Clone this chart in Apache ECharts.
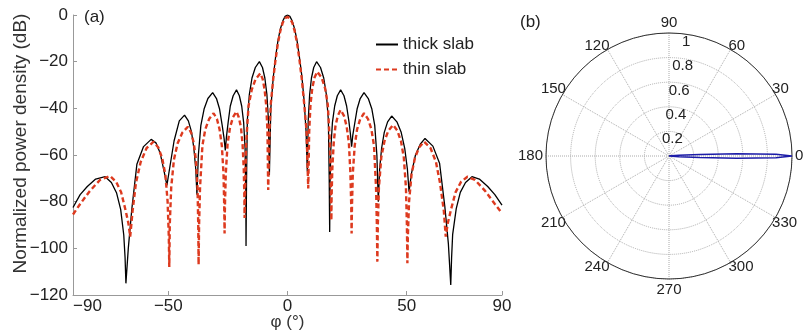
<!DOCTYPE html>
<html>
<head>
<meta charset="utf-8">
<script src="https://cdn.jsdelivr.net/npm/echarts@6/dist/echarts.min.js"></script>
<style>
  html, body { margin: 0; padding: 0; background: #fff; }
  #chart { width: 804px; height: 335px; }
</style>
</head>
<body>
<div id="chart"></div>
<script>
// (a) normalized power density in dB
const thickX = [-90, -87, -84, -80.5, -76.5, -73.9, -71.7, -70.0, -68.7, -68.15, -67.8,
  -66.8, -65.3, -63.2, -60.4, -57.2, -55.2, -53.4, -51.6, -50.6,
  -49.5, -47.6, -45.4, -43.2, -41.6, -40.3, -39.3, -38.5, -38.0,
  -37.4, -36.35, -35.0, -33.4, -31.4, -29.8, -28.5, -27.4, -26.6, -26.1,
  -25.6, -24.9, -24.0, -22.8, -21.4, -20.2, -19.2, -18.4, -17.8, -17.5, -17.4,
  -17.2, -16.85, -16.0, -14.9, -13.5, -11.8, -10.5, -9.5, -8.65, -8.0, -7.6,
  -7.0, -6, -5, -4, -3, -2, -1, 0, 1, 2, 3, 4, 5, 6, 7, 7.8, 8.3,
  8.7, 9.3, 10.05, 11.0, 12.2, 13.85, 15.2, 16.3, 17.15, 17.5, 17.7,
  17.85, 18.2, 18.85, 19.8, 20.9, 22.3, 23.7, 24.8, 25.75, 26.4, 26.9,
  27.4, 28.2, 29.2, 30.5, 32.1, 33.9, 35.4, 36.6, 37.5, 38.1,
  38.65, 39.5, 40.6, 42.0, 43.7, 45.9, 47.7, 49.2, 50.3, 51.0,
  52.0, 53.7, 55.7, 57.7, 61.0, 63.8, 66.0, 67.5, 68.5,
  68.85, 69.3, 70.8, 72.5, 74.7, 77.4, 80.5, 84, 87, 90];
const thickY = [-82.5, -77, -73.5, -70.3, -69.3, -71.8, -76.3, -83.3, -94.3, -104, -115,
  -100, -83, -64, -56.4, -53.3, -54.8, -59.3, -67.9, -73,
  -66, -54, -45.4, -42.9, -45.4, -50, -57, -66, -77,
  -60, -47.3, -40.3, -35.8, -33.3, -35.8, -40.3, -47.3, -53, -58,
  -52, -46, -39, -34.6, -32.1, -34.6, -39.1, -46.1, -57, -75, -99,
  -72, -45, -34, -27, -22.5, -20, -22.5, -27, -34, -45, -68.6,
  -40, -27, -18, -11, -6, -2.6, -0.6, 0, -0.6, -2.6, -6, -11, -18, -26, -37, -50, -67,
  -45, -34, -27, -22.5, -20, -22.5, -27, -34, -45, -70, -93,
  -72, -57, -46, -39, -34.6, -32.1, -34.6, -39, -45.5, -51, -56.4,
  -51.5, -46.5, -40.3, -35.8, -33.3, -35.8, -40.3, -47.3, -60, -80,
  -66, -57, -50.3, -45.8, -43.3, -45.8, -50.3, -57.3, -66, -75.7,
  -68, -60, -55.4, -52.9, -56.2, -63.5, -82, -98, -115.7,
  -104, -94, -83, -76, -71.8, -69.3, -70.3, -73.5, -77, -81.5];

const thinX = [-90, -87, -83, -78.7, -74.4, -71.9, -69.8, -68.1, -66.8, -66,
  -65.0, -63.6, -61.6, -59.1, -56.2, -54.2, -52.6, -51.25, -50.3, -49.8, -49.6,
  -49.4, -48.8, -47.65, -46.1, -44.1, -41.8, -40.45, -39.3, -38.45, -37.75, -37.45, -37.3,
  -37.1, -36.7, -35.7, -34.5, -32.9, -31.0, -29.6, -28.5, -27.55, -26.85, -26.55, -26.4,
  -26.25, -25.9, -25.15, -24.15, -22.9, -21.4, -20.4, -19.5, -18.85, -18.35, -18.1, -18.0,
  -17.8, -17.35, -16.35, -15.0, -13.4, -11.4, -10.4, -9.6, -8.9, -8.4, -8.1,
  -7.5, -7, -6, -5, -4, -3, -2, -1, 0, 1, 2, 3, 4, 5, 6, 7, 8, 8.7,
  9.1, 9.65, 10.4, 11.35, 12.5, 14.3, 15.75, 16.9, 17.8, 18.2, 18.4,
  18.5, 18.8, 19.4, 20.1, 21.1, 22.3, 23.7, 24.8, 25.75, 26.4, 26.75, 26.9,
  27.05, 27.4, 28.2, 29.2, 30.5, 32.1, 33.8, 35.2, 36.3, 37.15, 37.5, 37.7,
  37.9, 38.35, 39.35, 40.7, 42.3, 44.3, 46.1, 47.6, 48.8, 49.7, 50.1, 50.3,
  50.5, 51.0, 52.05, 53.45, 55.2, 57.3, 60.0, 62.3, 64.0, 65.6, 66.4,
  67.3, 68.7, 70.5, 72.8, 75.5, 78.7, 83, 87, 90];
const thinY = [-85.5, -81, -75.5, -70.7, -69, -71.5, -76, -83, -89, -95,
  -84, -72, -63, -57, -54.3, -56.8, -61.3, -68.3, -80, -95, -108,
  -90, -74, -62, -55, -50.4, -47.9, -50.4, -55, -62, -74, -90, -107,
  -90, -74, -56, -49, -44.6, -42.1, -44.6, -49, -56, -68, -82, -93.6,
  -82, -68, -55.4, -48.4, -43.9, -41.4, -43.9, -48.4, -55.4, -66, -78, -87,
  -75, -55, -39, -32, -27.5, -25, -27.5, -32, -39, -50, -75,
  -48, -38, -27.5, -19, -12, -6.8, -3.3, -1.4, -0.8, -1.4, -3.3, -6.8, -12, -19, -27.5, -38, -50, -74.3,
  -50, -38.3, -31.3, -26.8, -24.3, -26.8, -31.3, -38.3, -55, -75, -88,
  -78, -66, -54.7, -47.7, -43.2, -40.7, -43.2, -47.7, -54.7, -68, -82, -93.6,
  -82, -68, -56, -49, -44.6, -42.1, -44.6, -49, -56, -74, -90, -105.7,
  -90, -74, -61, -54, -49.6, -47.1, -49.6, -54, -61, -74, -90, -106.4,
  -95, -80, -68.3, -61.3, -56.8, -54.3, -57, -63, -72, -84, -95,
  -89, -83, -76, -71.5, -69.3, -70.7, -75.5, -81, -85];

const xTicks = [-90, -50, 0, 50, 90];

// (b) linear pattern, main beam only
const polarAngle = [352, 353, 354, 355, 356, 357, 358, 359, 0, 1, 2, 3, 4, 5, 6, 7, 8];
const polarR = [0, 0.0002, 0.002, 0.016, 0.08, 0.25, 0.55, 0.87, 1, 0.87, 0.55, 0.25, 0.08, 0.016, 0.002, 0.0002, 0];

const font = "'Liberation Sans', Arial, sans-serif";
const minus = v => String(v).replace('-', '\u2212');

const zip = (xs, ys) => xs.map((x, i) => [x, ys[i]]);

const chart = echarts.init(document.getElementById('chart'));

const option = {
    animation: false,
    textStyle: { fontFamily: font },
    title: [
        { text: '(a)', left: 79, top: 4, textStyle: { fontSize: 17, fontWeight: 'normal', color: '#222', fontFamily: font } },
        { text: '(b)', left: 515, top: 9, textStyle: { fontSize: 17, fontWeight: 'normal', color: '#222', fontFamily: font } },
    ],
    legend: {
        left: 375,
        top: 36,
        padding: 0,
        orient: 'vertical',
        itemWidth: 22,
        itemHeight: 14,
        itemGap: 8,
        itemStyle: { opacity: 0 },
        textStyle: { fontSize: 17, color: '#222', fontFamily: font },
        data: ['thick slab', 'thin slab'],
    },
    grid: {
        left: 73,
        right: 302,
        top: 15,
        bottom: 40,
        outerBoundsMode: 'none',
    },
    xAxis: {
        type: 'value',
        min: -90,
        max: 90,
        name: '\u03c6 (\u00b0)',
        nameLocation: 'middle',
        nameGap: 19,
        nameMoveOverlap: false,
        nameTextStyle: { fontSize: 17, color: '#333', fontFamily: font },
        splitLine: { show: false },
        axisLine: { onZero: false, lineStyle: { color: '#999', width: 1 } },
        axisTick: { inside: true, length: 4, customValues: xTicks, lineStyle: { color: '#999' } },
        axisLabel: {
            customValues: xTicks,
            alignMinLabel: 'left',
            fontSize: 17,
            color: '#222',
            margin: 3,
            formatter: minus,
        },
    },
    yAxis: {
        type: 'value',
        min: -120,
        max: 0,
        interval: 20,
        name: 'Normalized power density (dB)',
        nameLocation: 'middle',
        nameGap: 43,
        nameMoveOverlap: false,
        nameTextStyle: { fontSize: 19, color: '#333', fontFamily: font, padding: [0, 0, 0, 23] },
        splitLine: { show: false },
        axisLine: { show: true, onZero: false, lineStyle: { color: '#999', width: 1 } },
        axisTick: { show: true, inside: true, length: 4, lineStyle: { color: '#999' } },
        axisLabel: { fontSize: 17, color: '#222', margin: 5, formatter: minus },
    },
    polar: [
        { center: [669, 156], radius: 123 },
        { center: [669, 156], radius: 123 },
    ],
    angleAxis: [
        {
            polarIndex: 0,
            type: 'value',
            min: 0,
            max: 360,
            interval: 30,
            startAngle: 0,
            clockwise: false,
            axisLine: { lineStyle: { color: '#333', width: 1 } },
            axisTick: { show: false },
            splitLine: { show: true, lineStyle: { type: 'dotted', color: '#aaa', width: 1 } },
            axisLabel: {
                fontSize: 15,
                color: '#222',
                margin: -4,
                // the four labels on the main directions sit a little further out
                formatter: v => (v === 360 ? '' : v % 90 === 0 ? '{c|' + v + '}' : '{d|' + v + '}'),
                rich: {
                    c: { fontSize: 15, color: '#222', padding: [7, 7, 7, 7] },
                    d: { fontSize: 15, color: '#222' },
                },
            },
        },
        {
            polarIndex: 1,
            type: 'value',
            min: 0,
            max: 360,
            startAngle: 82,
            clockwise: false,
            show: false,
        },
    ],
    radiusAxis: [
        {
            polarIndex: 0,
            type: 'value',
            min: 0,
            max: 1,
            interval: 0.2,
            axisLine: { show: false },
            axisTick: { show: false },
            axisLabel: { show: false },
            splitLine: { show: true, lineStyle: { type: 'dotted', color: '#aaa', width: 1 } },
        },
        {
            polarIndex: 1,
            type: 'value',
            min: 0,
            max: 1,
            interval: 0.2,
            axisLine: { show: false },
            axisTick: { show: false },
            splitLine: { show: false },
            axisLabel: {
                fontSize: 15,
                color: '#222',
                margin: 0,
                align: 'center',
                verticalAlign: 'top',
                formatter: v => (v === 0 ? '' : String(v)),
            },
        },
    ],
    series: [
        {
            name: 'thick slab',
            type: 'line',
            data: zip(thickX, thickY),
            showSymbol: false,
            symbol: 'none',
            lineStyle: { color: '#000', width: 1.3 },
            itemStyle: { color: '#000' },
        },
        {
            name: 'thin slab',
            type: 'line',
            data: zip(thinX, thinY),
            showSymbol: false,
            symbol: 'none',
            lineStyle: { color: '#dd3a1f', width: 2.4, type: [5, 3] },
            itemStyle: { color: '#dd3a1f' },
        },
        {
            name: 'pattern',
            type: 'line',
            coordinateSystem: 'polar',
            polarIndex: 0,
            data: zip(polarR, polarAngle),
            showSymbol: false,
            symbol: 'none',
            lineStyle: { color: '#1c1ca8', width: 1.5 },
        },
    ],
};

chart.setOption(option);
</script>
</body>
</html>
